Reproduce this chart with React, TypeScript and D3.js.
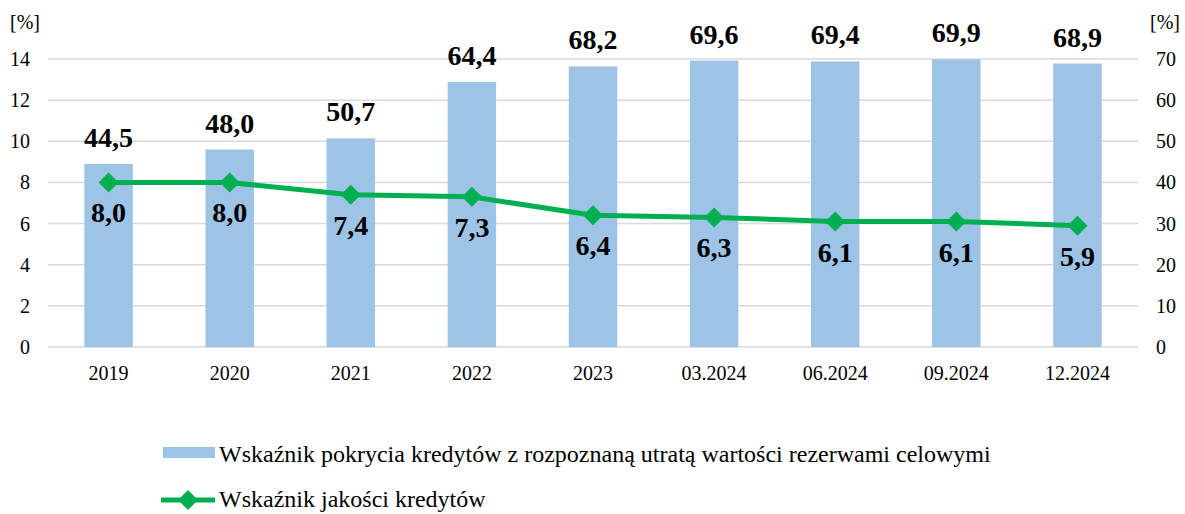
import React from 'react';
import * as d3 from 'd3';

const categories = ['2019', '2020', '2021', '2022', '2023', '03.2024', '06.2024', '09.2024', '12.2024'];
const coverage = [44.5, 48.0, 50.7, 64.4, 68.2, 69.6, 69.4, 69.9, 68.9];
const quality = [8.0, 8.0, 7.4, 7.3, 6.4, 6.3, 6.1, 6.1, 5.9];
const leftTicks = [0, 2, 4, 6, 8, 10, 12, 14];
const rightTicks = [0, 10, 20, 30, 40, 50, 60, 70];
const coverageName = 'Wskaźnik pokrycia kredytów z rozpoznaną utratą wartości rezerwami celowymi';
const qualityName = 'Wskaźnik jakości kredytów';

const fmt = (v: number) => v.toFixed(1).replace('.', ',');

export default function App() {
  const width = 1185;
  const height = 514;
  const left = 48;
  const right = 1138;
  const top = 59;
  const bottom = 347;
  const font = '"Liberation Serif", "Times New Roman", serif';

  const x = d3.scaleBand().domain(categories).range([left, right]).paddingInner(0.6).paddingOuter(0.3);
  const yL = d3.scaleLinear().domain([0, 14]).range([bottom, top]);
  const yR = d3.scaleLinear().domain([0, 70]).range([bottom, top]);
  const cx = (c: string) => (x(c) ?? 0) + x.bandwidth() / 2;

  const line = d3.line<number>()
    .x((_, i) => cx(categories[i]))
    .y(d => yL(d));

  const diamond = (px: number, py: number, r: number) =>
    `M${px},${py - r}L${px + r},${py}L${px},${py + r}L${px - r},${py}Z`;

  return (
    <svg width={width} height={height} style={{ display: 'block', position: 'absolute', left: 0, top: 0 }}>
      <rect width={width} height={height} fill="#fff" />
      {leftTicks.map(t => (
        <line key={t} x1={left} x2={right} y1={yL(t)} y2={yL(t)} stroke="#D9D9D9" strokeWidth={1.5} />
      ))}
      {leftTicks.map(t => (
        <text key={t} x={30} y={yL(t) + 7} textAnchor="end" fontFamily={font} fontSize={20}>{t}</text>
      ))}
      {rightTicks.map(t => (
        <text key={t} x={1156} y={yR(t) + 7} textAnchor="start" fontFamily={font} fontSize={20}>{t}</text>
      ))}
      <text x={10} y={29} fontFamily={font} fontSize={20}>[%]</text>
      <text x={1150} y={29} fontFamily={font} fontSize={20}>[%]</text>

      {categories.map((c, i) => (
        <rect key={c} x={x(c)} y={yR(coverage[i])} width={x.bandwidth()} height={bottom - yR(coverage[i])} fill="#9DC3E6" />
      ))}
      {categories.map((c, i) => (
        <text key={c} x={cx(c)} y={yR(coverage[i]) - 17} textAnchor="middle" fontFamily={font} fontSize={28} fontWeight="bold">
          {fmt(coverage[i])}
        </text>
      ))}

      <path d={line(quality) ?? ''} fill="none" stroke="#00B050" strokeWidth={5} />
      {categories.map((c, i) => (
        <path key={c} d={diamond(cx(c), yL(quality[i]), 10)} fill="#00B050" />
      ))}
      {categories.map((c, i) => (
        <text key={c} x={cx(c)} y={yL(quality[i]) + 40} textAnchor="middle" fontFamily={font} fontSize={28} fontWeight="bold">
          {fmt(quality[i])}
        </text>
      ))}

      {categories.map(c => (
        <text key={c} x={cx(c)} y={380} textAnchor="middle" fontFamily={font} fontSize={20}>{c}</text>
      ))}

      <rect x={163} y={447} width={52} height={11} fill="#9DC3E6" />
      <text x={219} y={462} fontFamily={font} fontSize={24}>{coverageName}</text>
      <line x1={161} x2={215} y1={500} y2={500} stroke="#00B050" strokeWidth={5} />
      <path d={diamond(188, 500, 10)} fill="#00B050" />
      <text x={219} y={507} fontFamily={font} fontSize={24}>{qualityName}</text>
    </svg>
  );
}
